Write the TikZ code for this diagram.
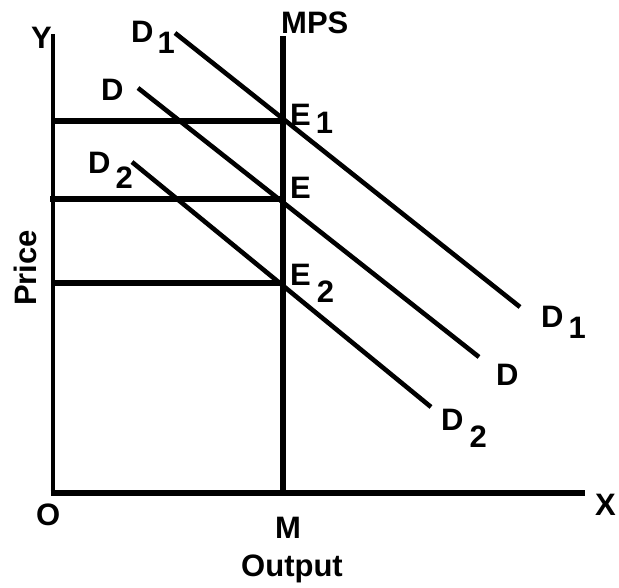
\documentclass[tikz,border=0pt]{standalone}
\usepackage{fontspec}
\setmainfont{Liberation Sans}
\newcommand{\lowr}[2]{\raisebox{-#1}{#2}}
\begin{document}
\begin{tikzpicture}[x=1pt,y=-1pt,
  lab/.style={font=\fontsize{31}{35}\selectfont\bfseries, inner sep=0pt, anchor=base west},
  axis/.style={line width=4.6pt},
  guide/.style={line width=5.2pt},
  dline/.style={line width=4.6pt}]
\useasboundingbox (0,0) rectangle (619,587);
% coordinates
\coordinate (O) at (53,493);
\coordinate (Ytop) at (53,34);
\coordinate (Xend) at (585,493);
\coordinate (Mtop) at (283,36);
\coordinate (M) at (283,495);
\coordinate (E1) at (283,121);
\coordinate (E) at (283,199);
\coordinate (E2) at (283,283);
\coordinate (P1) at (53,121);
\coordinate (P0) at (50,199);
\coordinate (P2) at (53,283);
\coordinate (D1a) at (175,33);
\coordinate (D1b) at (520,307);
\coordinate (Da) at (138,88);
\coordinate (Db) at (479,357);
\coordinate (D2a) at (132,162);
\coordinate (D2b) at (431,407);
% axes
\draw[axis] (Ytop) -- (O);
\draw[guide] ([xshift=-2.3pt]O) -- (Xend);
\draw[guide] (Mtop) -- (M);
% price guides
\draw[guide] (P1) -- (E1);
\draw[guide] (P0) -- (E);
\draw[guide] (P2) -- (E2);
% demand curves
\draw[dline] (D1a) -- (D1b);
\draw[dline] (Da) -- (Db);
\draw[dline] (D2a) -- (D2b);
% labels
\node[lab] (lY) at (31,48) {Y};
\node[lab] (lMPS) at (281,33) {MPS};
\node[lab] (lD1a) at (131,42) {D\hspace{4pt}\lowr{11pt}{1}};
\node[lab] (lDa) at (101,100) {D};
\node[lab] (lD2a) at (88,173) {D\hspace{5pt}\lowr{15pt}{2}};
\node[lab] (lE1) at (290,125) {E\hspace{5pt}\lowr{8pt}{1}};
\node[lab] (lE) at (290,198) {E};
\node[lab] (lE2) at (290,285) {E\hspace{6pt}\lowr{17pt}{2}};
\node[lab] (lD1b) at (541,327) {D\hspace{5pt}\lowr{11pt}{1}};
\node[lab] (lDb) at (496,385) {D};
\node[lab] (lD2b) at (441,430) {D\hspace{6pt}\lowr{17pt}{2}};
\node[lab] (lX) at (595,515) {X};
\node[lab] (lO) at (36,525) {O};
\node[lab] (lM) at (275,538) {M};
\node[lab, anchor=base] (lOut) at (292,576) {Output};
\node[lab, anchor=base, rotate=90] (lPrice) at (36,268) {Price};
\end{tikzpicture}
\end{document}
